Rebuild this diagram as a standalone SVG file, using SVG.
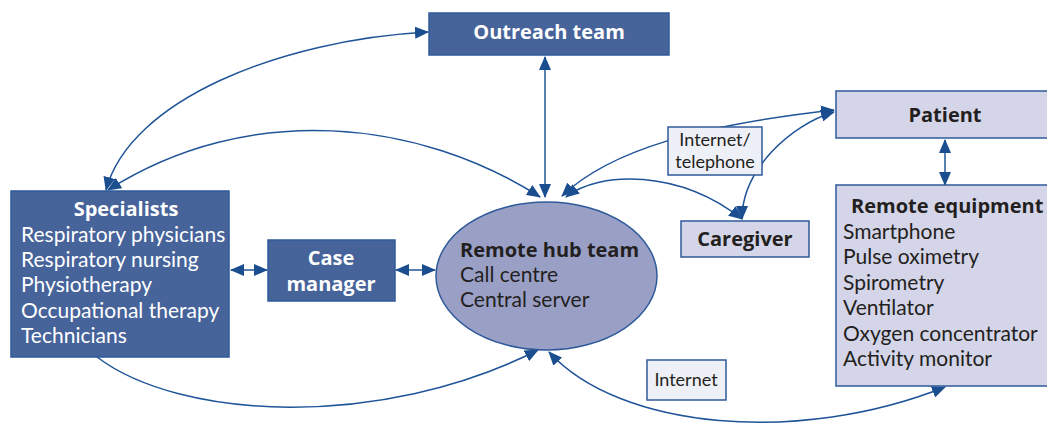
<svg xmlns="http://www.w3.org/2000/svg" width="1047" height="424" viewBox="0 0 1047 424">
<style>
  text { font-family: Lato, "Open Sans", "Liberation Sans", sans-serif; font-size: 21px; }
  .dark rect { fill: #46639a; stroke: #2f5a9a; stroke-width: 1.5; }
  .light rect { fill: #d4d5e8; stroke: #2f5a9a; stroke-width: 1.5; }
  .lbl rect { fill: #eef0f7; stroke: #2f5a9a; stroke-width: 1.5; }
  .w { fill: #ffffff; }
  .k { fill: #231f20; }
  .b { font-family: "Open Sans", Lato, "Liberation Sans", sans-serif; font-weight: bold; font-size: 20px; }
  .c { text-anchor: middle; }
  .s { font-size: 18px; }
  #connectors path { fill: none; stroke: #1f5499; stroke-width: 1.5; }
  .bi { marker-start: url(#ah); marker-end: url(#ah); }
  .uni { marker-end: url(#ah); }
</style>
<defs>
  <marker id="ah" viewBox="0 0 14 12" refX="13" refY="6" markerWidth="14" markerHeight="12" markerUnits="userSpaceOnUse" orient="auto-start-reverse">
    <path d="M0,0 L14,6 L0,12 z" fill="#1a4e8f"/>
  </marker>
</defs>
<rect width="1047" height="424" fill="#ffffff"/>
<g id="connectors">
  <path class="bi" d="M106,190 C130,100 280,40 428,32"/>
  <path class="bi" d="M108,190 C250,100 420,120 540,197"/>
  <path class="bi" d="M545,57 L545,197"/>
  <path class="bi" d="M562,196 C610,150 700,125 834,110"/>
  <path class="bi" d="M834,112 C790,125 742,170 742,219"/>
  <path class="bi" d="M566,197 C600,170 680,170 742,219"/>
  <path class="bi" d="M945,140 L945,185"/>
  <path class="uni" d="M97,357 C180,420 380,430 538,350"/>
  <path class="bi" d="M549,352 C620,430 800,445 945,387"/>
  <path class="bi" d="M231,270 L267,270"/>
  <path class="bi" d="M396,270 L435,270"/>
</g>
<g id="outreach" class="dark">
  <rect x="429" y="13" width="240" height="42"/>
  <text class="w b c" x="549" y="39">Outreach team</text>
</g>
<g id="specialists" class="dark">
  <rect x="11" y="191" width="218" height="166"/>
  <text class="w b c" x="126" y="216">Specialists</text>
  <text class="w" x="21" y="242">Respiratory physicians</text>
  <text class="w" x="21" y="267">Respiratory nursing</text>
  <text class="w" x="21" y="292">Physiotherapy</text>
  <text class="w" x="21" y="318">Occupational therapy</text>
  <text class="w" x="21" y="343">Technicians</text>
</g>
<g id="case-manager" class="dark">
  <rect x="268" y="240" width="127" height="61"/>
  <text class="w b c" x="331" y="265">Case</text>
  <text class="w b c" x="331" y="291">manager</text>
</g>
<g id="hub">
  <ellipse cx="546.5" cy="276" rx="110.5" ry="74" fill="#9a9fc6" stroke="#2f5a9a" stroke-width="1.5"/>
  <text class="k b" x="460" y="257">Remote hub team</text>
  <text class="k" x="460" y="282">Call centre</text>
  <text class="k" x="460" y="307">Central server</text>
</g>
<g id="patient" class="light">
  <rect x="836" y="91" width="220" height="47"/>
  <text class="k b c" x="945" y="122">Patient</text>
</g>
<g id="remote-equipment" class="light">
  <rect x="836" y="185" width="220" height="201"/>
  <text class="k b" x="851" y="213">Remote equipment</text>
  <text class="k" x="843" y="239">Smartphone</text>
  <text class="k" x="843" y="264">Pulse oximetry</text>
  <text class="k" x="843" y="290">Spirometry</text>
  <text class="k" x="843" y="315">Ventilator</text>
  <text class="k" x="843" y="341">Oxygen concentrator</text>
  <text class="k" x="843" y="366">Activity monitor</text>
</g>
<g id="caregiver" class="light">
  <rect x="681" y="221" width="128" height="36"/>
  <text class="k b c" x="745" y="246">Caregiver</text>
</g>
<g id="label-internet-telephone" class="lbl">
  <rect x="668" y="127" width="94" height="48"/>
  <text class="k c s" x="715" y="146">Internet/</text>
  <text class="k c s" x="715" y="168">telephone</text>
</g>
<g id="label-internet" class="lbl">
  <rect x="647" y="360" width="79" height="40"/>
  <text class="k c s" x="686" y="386">Internet</text>
</g>
</svg>
